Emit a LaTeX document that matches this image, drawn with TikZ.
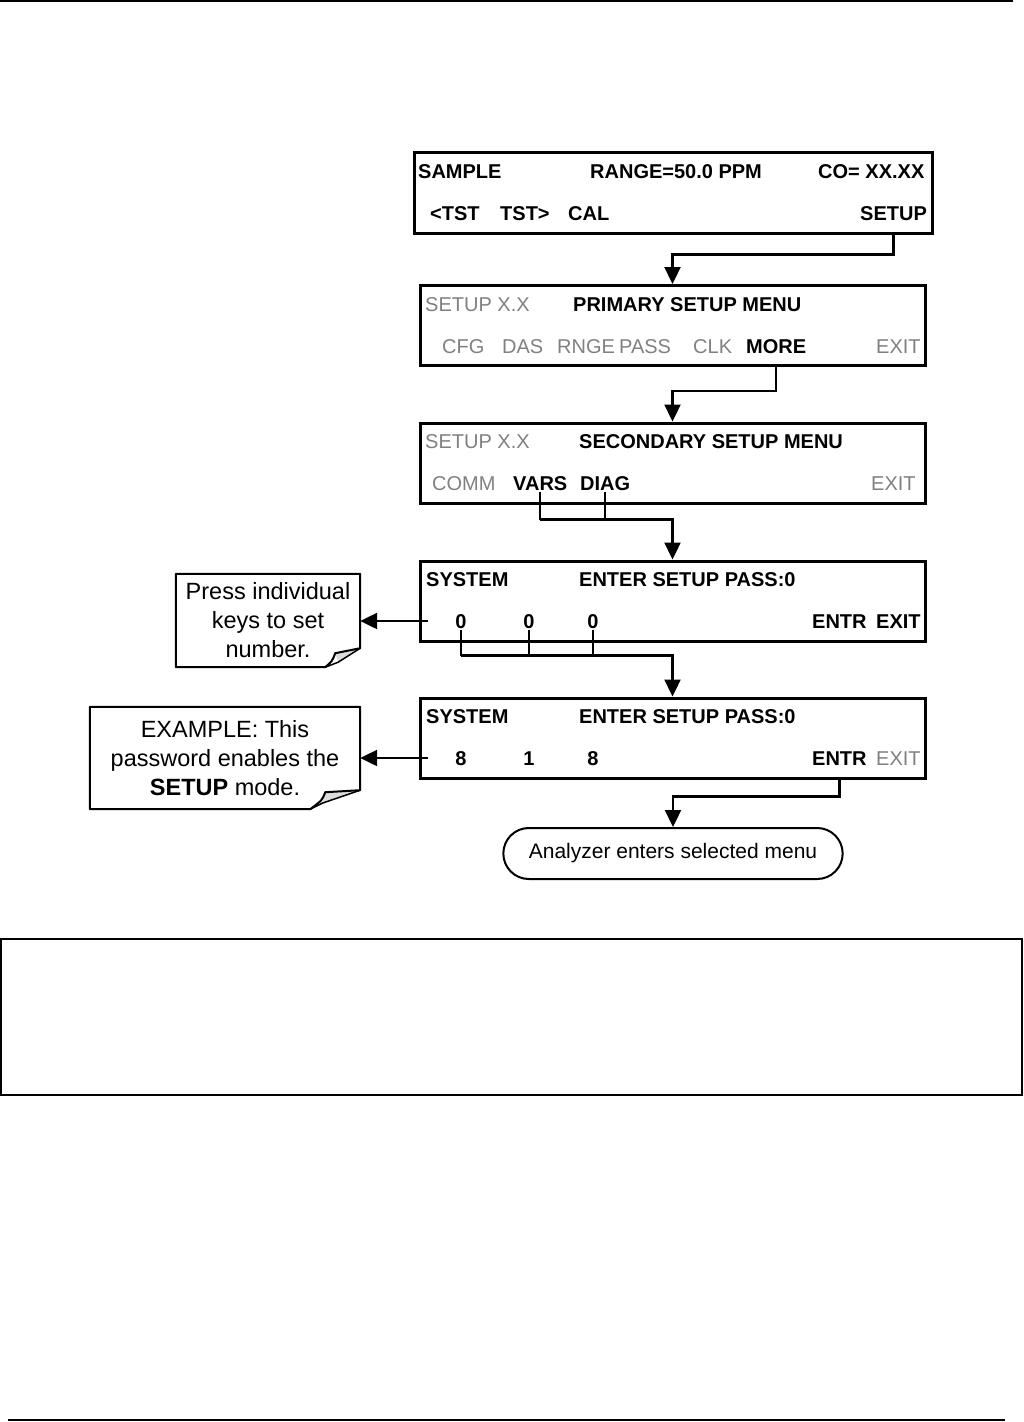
\documentclass[tikz,border=0pt]{standalone}
\usepackage{fontspec}
\setmainfont{Liberation Sans}
\usetikzlibrary{arrows.meta,positioning,shapes.misc}
\definecolor{keygrey}{RGB}{128,128,128}
\definecolor{flapgrey}{RGB}{220,220,220}
\tikzstyle{screen}=[draw,line width=3pt,minimum width=505pt,minimum height=80pt,inner sep=0pt]
\tikzstyle{key}=[font=\fontsize{20}{24}\selectfont\bfseries,inner sep=0pt,text height=14.3pt,text depth=0pt,anchor=west]
\tikzstyle{dim}=[key,font=\fontsize{20}{24}\selectfont,text=keygrey]
\tikzstyle{digit}=[key,anchor=center]
\tikzstyle{note}=[align=center,inner sep=0pt,font=\fontsize{23.5}{29}\selectfont]
\tikzstyle{link}=[draw,line width=2.3pt,-{Triangle[length=17pt,width=16pt]}]
\tikzstyle{stem}=[draw,line width=1.5pt]

\begin{document}
\begin{tikzpicture}[x=1pt,y=-1pt]
    \useasboundingbox (0,0) rectangle (1023,1422);
    % page rules and the empty box below
    \draw[line width=1.5pt] (0,1) -- (1013,1);
    \draw[line width=1.5pt] (8,1420) -- (1005,1420);
    \node[draw,line width=1.5pt,minimum width=1021pt,minimum height=156pt] (notebox) at (511.5,1017) {};
    % First we draw the screens
    \node[screen,minimum width=518pt,minimum height=81pt] (scr1) at (673,192.5) {};
    \foreach \pos/\name in {{(672.5,325.5)/scr2}, {(672.5,463)/scr3}, {(672.5,601)/scr4}, {(672.5,738)/scr5}}
        \node[screen] (\name) at \pos {};
    % Keys in black
    \foreach \pos/\name/\txt in {{(418,171)/sample/SAMPLE}, {(590,171)/range/{RANGE=50.0 PPM}}, {(818,171)/co/{CO= XX.XX}},
        {(430,213)/tstl/<TST}, {(500,213)/tstr/TST>}, {(568,213)/cal/CAL}, {(860,213)/setup/SETUP},
        {(573,304)/primary/{PRIMARY SETUP MENU}}, {(746,346)/more/MORE},
        {(579,441)/secondary/{SECONDARY SETUP MENU}}, {(513,483)/vars/VARS}, {(580,483)/diag/DIAG},
        {(426,579)/sys4/SYSTEM}, {(579,579)/pass4/{ENTER SETUP PASS:0}}, {(812,621)/entr4/ENTR}, {(876,621)/exit4/EXIT},
        {(426,716)/sys5/SYSTEM}, {(579,716)/pass5/{ENTER SETUP PASS:0}}, {(812,758)/entr5/ENTR}}
        \node[key] (\name) at \pos {\txt};
    % Keys in grey
    \foreach \pos/\name/\txt in {{(425,304)/ver2/{SETUP X.X}}, {(442,346)/cfg/CFG}, {(502,346)/das/DAS}, {(557,346)/rnge/RNGE},
        {(619,346)/pass/PASS}, {(693,346)/clk/CLK}, {(876,346)/exit2/EXIT},
        {(425,441)/ver3/{SETUP X.X}}, {(432,483)/comm/COMM}, {(871,483)/exit3/EXIT}, {(876,758)/exit5/EXIT}}
        \node[dim] (\name) at \pos {\txt};
    % Digits
    \foreach \pos/\name/\txt in {{(461,621)/d41/0}, {(529,621)/d42/0}, {(593,621)/d43/0},
        {(461,758)/d51/8}, {(529,758)/d52/1}, {(593,758)/d53/8}}
        \node[digit] (\name) at \pos {\txt};
    % Notes with a folded corner
    \node[note,minimum width=184pt,minimum height=93pt] (note1) at (268,620.5) {Press individual\\keys to set\\number.};
    \node[note,minimum width=270pt,minimum height=102pt] (note2) at (225,758) {EXAMPLE: This\\password enables the\\\textbf{SETUP} mode.};
    \foreach \n/\bx/\cx/\cy/\ry/\lx/\ly in {note1/35/25/14/19/22/5, note2/50/35/17/19/38/6}
    {
        \fill[flapgrey] ([xshift=-\cx pt,yshift=\cy pt]\n.south east) -- ([yshift=\ry pt]\n.south east)
            -- ([xshift=-\lx pt,yshift=\ly pt]\n.south east) -- cycle;
        \draw[line width=2pt,line join=round] (\n.north west) -- (\n.north east) -- ([yshift=\ry pt]\n.south east)
            -- ([xshift=-\cx pt,yshift=\cy pt]\n.south east)
            .. controls ([xshift=-\cx pt-3pt,yshift=\cy pt-8pt]\n.south east) .. ([xshift=-\bx pt]\n.south east)
            -- (\n.south west) -- cycle;
        \draw[line width=1.5pt,line join=round] ([yshift=\ry pt]\n.south east) -- ([xshift=-\lx pt,yshift=\ly pt]\n.south east)
            -- ([xshift=-\bx pt]\n.south east);
    }
    \node[draw,rounded rectangle,line width=2pt,minimum width=346pt,minimum height=51pt,font=\fontsize{21}{25}\selectfont] (done) at (673,853.5) {Analyzer enters selected menu};
    % Connect the screens
    \coordinate (j3) at ([yshift=40pt]scr4.north);
    \coordinate (j4) at ([yshift=41pt]scr5.north);
    \path[link] (setup |- scr1.south) -- ++(0,20) -| (scr2.north);
    \path[link] (more |- scr2.south) -- ++(0,24) -| (scr3.north);
    \foreach \k in {vars, diag}
        \path[stem] ([yshift=-2pt]\k.south) -- (\k |- j3);
    \path[link] (vars |- j3) -- (j3) -- (scr4.north);
    \foreach \k in {d41, d42, d43}
        \path[stem] ([yshift=-2pt]\k.south) -- (\k |- j4);
    \path[link] (d41 |- j4) -- (j4) -- (scr5.north);
    \path[link] (entr5 |- scr5.south) -- ++(0,17) -| (done.north);
    % Arrows to the notes
    \path[link] ([xshift=-27pt]d41.west) -- (note1.east |- d41);
    \path[link] ([xshift=-27pt]d51.west) -- (note2.east |- d51);
\end{tikzpicture}
\end{document}
